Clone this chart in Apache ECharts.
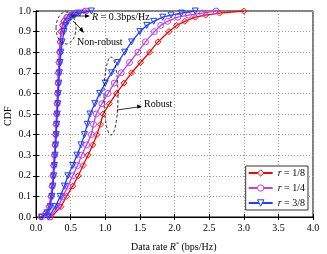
<!DOCTYPE html>
<html><head><meta charset="utf-8">
<script src="https://cdn.jsdelivr.net/npm/echarts@6/dist/echarts.min.js"></script>
<style>html,body{margin:0;padding:0;background:#fff}#c{width:327px;height:254px}</style>
</head><body><div id="c"></div>
<script>
const xTicks = [0,0.5,1,1.5,2,2.5,3,3.5,4];
const yTicks = [0,0.1,0.2,0.3,0.4,0.5,0.6,0.7,0.8,0.9,1.0];
const seriesNames = ['r = 1/8','r = 1/4','r = 3/8'];
// [rate, cdf]
const robust18 = [[0.22,0],[0.36,0.05],[0.44,0.1],[0.53,0.15],[0.61,0.2],[0.68,0.25],[0.75,0.3],[0.82,0.35],[0.88,0.4],[0.93,0.45],[0.97,0.5],[1.06,0.55],[1.16,0.6],[1.27,0.65],[1.38,0.7],[1.51,0.75],[1.64,0.8],[1.76,0.85],[1.92,0.9],[2.03,0.93],[2.15,0.95],[2.3,0.97],[2.45,0.98],[2.65,0.99],[3.0,1.0]];
const robust14 = [[0.2,0],[0.32,0.05],[0.39,0.1],[0.46,0.15],[0.53,0.2],[0.6,0.25],[0.66,0.3],[0.73,0.35],[0.8,0.4],[0.83,0.45],[0.87,0.5],[0.95,0.55],[1.04,0.6],[1.13,0.65],[1.23,0.7],[1.35,0.75],[1.47,0.8],[1.58,0.85],[1.71,0.9],[1.8,0.93],[1.9,0.95],[2.05,0.97],[2.2,0.98],[2.4,0.99],[2.6,1.0]];
const robust38 = [[0.18,0],[0.28,0.05],[0.35,0.1],[0.41,0.15],[0.46,0.2],[0.53,0.25],[0.59,0.3],[0.65,0.35],[0.7,0.4],[0.74,0.45],[0.78,0.5],[0.85,0.55],[0.92,0.6],[1.0,0.65],[1.09,0.7],[1.18,0.75],[1.28,0.8],[1.38,0.85],[1.5,0.9],[1.6,0.93],[1.7,0.95],[1.83,0.97],[1.95,0.98],[2.1,0.99],[2.3,1.0]];
const nonRobust18 = [[0.07,0],[0.14,0.02],[0.19,0.05],[0.215,0.1],[0.23,0.15],[0.245,0.2],[0.255,0.25],[0.265,0.3],[0.275,0.35],[0.283,0.4],[0.29,0.45],[0.297,0.5],[0.304,0.55],[0.31,0.6],[0.316,0.65],[0.322,0.7],[0.33,0.75],[0.338,0.8],[0.348,0.85],[0.36,0.9],[0.38,0.93],[0.4,0.95],[0.44,0.97],[0.5,0.98],[0.56,0.99],[0.7,1.0]];
const nonRobust14 = [[0.08,0],[0.15,0.02],[0.195,0.05],[0.22,0.1],[0.235,0.15],[0.248,0.2],[0.258,0.25],[0.268,0.3],[0.277,0.35],[0.285,0.4],[0.292,0.45],[0.3,0.5],[0.307,0.55],[0.313,0.6],[0.32,0.65],[0.327,0.7],[0.335,0.75],[0.344,0.8],[0.355,0.85],[0.37,0.9],[0.39,0.93],[0.41,0.95],[0.45,0.97],[0.51,0.98],[0.58,0.99],[0.72,1.0]];
const nonRobust38 = [[0.08,0],[0.16,0.02],[0.205,0.05],[0.23,0.1],[0.245,0.15],[0.256,0.2],[0.266,0.25],[0.276,0.3],[0.285,0.35],[0.293,0.4],[0.3,0.45],[0.307,0.5],[0.315,0.55],[0.322,0.6],[0.33,0.65],[0.338,0.7],[0.348,0.75],[0.36,0.8],[0.378,0.85],[0.405,0.9],[0.43,0.93],[0.46,0.95],[0.51,0.97],[0.56,0.98],[0.63,0.99],[0.8,1.0]];

const colors = ['#ff0000','#c040f0','#1f3fff'];
const symbols = ['diamond','circle','triangle'];
const rots = [0,0,180];
const font = 'Liberation Serif, Times New Roman, serif';

function mk(name, data, i){
  return {
    name: name, type:'line', data:data, symbol:symbols[i], symbolSize:6, symbolRotate:rots[i],
    lineStyle:{color:colors[i], width:1.3},
    itemStyle:{color:'rgba(255,255,255,0)', borderColor:colors[i], borderWidth:1},
    z: 3+i, animation:false
  };
}
const series = [
  mk(seriesNames[0], robust18, 0), mk(seriesNames[1], robust14, 1), mk(seriesNames[2], robust38, 2),
  mk(seriesNames[0], nonRobust18, 0), mk(seriesNames[1], nonRobust14, 1), mk(seriesNames[2], nonRobust38, 2)
];

const chart = echarts.init(document.getElementById('c'), null, {renderer:'canvas'});
const axisCommon = {
  min:0, axisLine:{show:true, lineStyle:{color:'#000', width:1}},
  axisTick:{show:true, inside:true, length:3, lineStyle:{color:'#000'}},
};
chart.setOption({
  animation:false,
  grid:{left:36, right:14, top:11, bottom:37, show:true, borderColor:'#000', borderWidth:1},
  xAxis:[
    Object.assign({}, axisCommon, {type:'value', max:4, interval:0.5, position:'bottom',
      axisLabel:{color:'#000', fontFamily:font, fontSize:10, margin:6, formatter:v=>v.toFixed(1)},
      splitLine:{show:true, lineStyle:{color:'#999', type:[1,2], width:1}}}),
    Object.assign({}, axisCommon, {type:'value', max:4, interval:0.5, position:'top',
      axisLabel:{show:false}, splitLine:{show:false}})
  ],
  yAxis:[
    Object.assign({}, axisCommon, {type:'value', max:1, interval:0.1, position:'left',
      axisLabel:{color:'#000', fontFamily:font, fontSize:10, margin:5, formatter:v=>v.toFixed(1)},
      splitLine:{show:true, lineStyle:{color:'#999', type:[1,2], width:1}}}),
    Object.assign({}, axisCommon, {type:'value', max:1, interval:0.1, position:'right',
      axisLabel:{show:false}, splitLine:{show:false}})
  ],
  legend:{
    data: seriesNames,
    orient:'vertical', right:19, bottom:44, itemWidth:24, itemHeight:8, itemGap:5,
    padding:[2,3,2,2], borderColor:'#333', borderWidth:1, backgroundColor:'#fff',
    itemStyle:{color:'#fff', borderWidth:1},
    symbolRotate:'inherit',
    textStyle:{fontFamily:font, fontSize:10, color:'#000',
      rich:{i:{fontStyle:'italic', fontFamily:font, fontSize:10}, n:{fontFamily:font, fontSize:10}}},
    formatter: n => '{i|r}{n|' + n.slice(1) + '}'
  },
  series: series,
  graphic:[
    {type:'text', rotation:Math.PI/2, x:3, y:126, style:{text:'CDF', font:'10px '+font, fill:'#000'}},
    {type:'text', x:131, y:241, style:{text:'{n|Data rate }{i|R}{s|*}{n| (bps/Hz)}', fill:'#000',
      rich:{n:{fontFamily:font,fontSize:10}, i:{fontFamily:font,fontSize:10,fontStyle:'italic'}, s:{fontFamily:font,fontSize:6,verticalAlign:'top', padding:[0,0,6,0]}}}},
    {type:'ellipse', shape:{cx:66, cy:28, rx:10, ry:16}, style:{fill:'none', stroke:'#000', lineWidth:0.8, lineDash:[3,2]}, z:10},
    {type:'ellipse', shape:{cx:111, cy:96, rx:7, ry:39}, style:{fill:'none', stroke:'#000', lineWidth:0.8, lineDash:[3,2]}, z:10},
    {type:'line', shape:{x1:70, y1:16, x2:86, y2:16}, style:{stroke:'#000', lineWidth:0.8}, z:10},
    {type:'polygon', shape:{points:[[90,16],[85,14],[85,18]]}, style:{fill:'#000'}, z:10},
    {type:'text', x:92, y:12, style:{text:'{i|R}{n| = 0.3bps/Hz}', fill:'#000',
      rich:{n:{fontFamily:font,fontSize:10}, i:{fontFamily:font,fontSize:10,fontStyle:'italic'}}}, z:10},
    {type:'line', shape:{x1:73, y1:21, x2:82, y2:30}, style:{stroke:'#000', lineWidth:0.8}, z:10},
    {type:'polygon', shape:{points:[[84,33],[79,30],[82,27]]}, style:{fill:'#000'}, z:10},
    {type:'text', x:77, y:37, style:{text:'Non-robust', font:'10px '+font, fill:'#000'}, z:10},
    {type:'line', shape:{x1:117, y1:110, x2:138, y2:107}, style:{stroke:'#000', lineWidth:0.8}, z:10},
    {type:'polygon', shape:{points:[[142,106.5],[137,104.5],[137.5,108.8]]}, style:{fill:'#000'}, z:10},
    {type:'text', x:144, y:99, style:{text:'Robust', font:'10px '+font, fill:'#000'}, z:10}
  ]
});
</script></body></html>
